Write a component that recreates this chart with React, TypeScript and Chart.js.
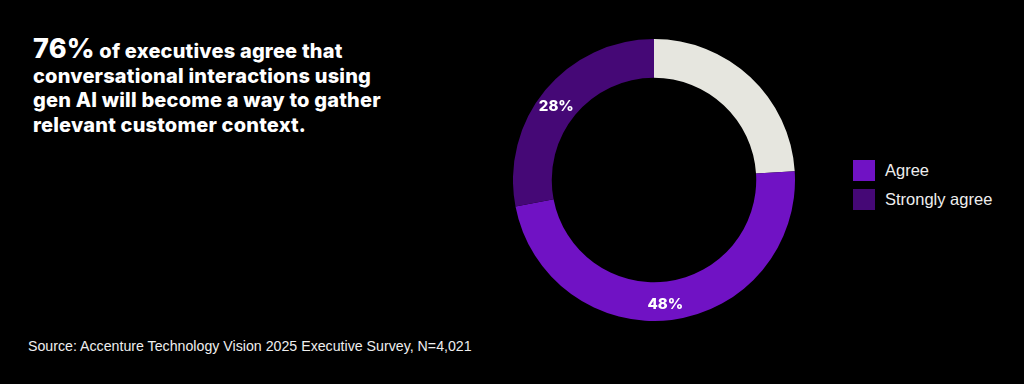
import React, { useEffect, useRef } from "react";
import { Chart, registerables } from "chart.js";

Chart.register(...registerables);

const categories = ["Other", "Agree", "Strongly agree"];
const values = [24, 48, 28];
const colors = ["#e6e6df", "#7012c4", "#450876"];
const showLabel = [false, true, true];
const legendItems = ["Agree", "Strongly agree"];
const legendColors = ["#7012c4", "#450876"];

const FONT = "'Liberation Sans', Arial, sans-serif";
const TITLE_FONT = "Inter, 'Liberation Sans', sans-serif";

const labelPlugin = {
  id: "sliceLabels",
  afterDatasetsDraw(chart: any) {
    const ctx = chart.ctx;
    const meta = chart.getDatasetMeta(0);
    ctx.save();
    ctx.fillStyle = "#ffffff";
    ctx.font = `800 15px ${TITLE_FONT}`;
    ctx.textAlign = "center";
    ctx.textBaseline = "middle";
    meta.data.forEach((arc: any, i: number) => {
      if (!showLabel[i]) return;
      const p = arc.tooltipPosition();
      ctx.fillText(`${values[i]}%`, p.x - 4, p.y + 4);
    });
    ctx.restore();
  },
};

export default function App() {
  const ref = useRef<HTMLCanvasElement>(null);
  useEffect(() => {
    if (!ref.current) return;
    const chart = new Chart(ref.current, {
      type: "doughnut",
      data: {
        labels: categories,
        datasets: [
          {
            data: values,
            backgroundColor: colors,
            borderWidth: 0,
          },
        ],
      },
      options: {
        animation: false,
        responsive: false,
        maintainAspectRatio: false,
        cutout: "72.5%",
        layout: { padding: 0 },
        plugins: {
          legend: { display: false },
          tooltip: { enabled: false },
        },
      },
      plugins: [labelPlugin],
    });
    return () => chart.destroy();
  }, []);

  return (
    <div
      style={{
        position: "fixed",
        left: 0,
        top: 0,
        width: 1024,
        height: 384,
        background: "#000",
        overflow: "hidden",
        fontFamily: FONT,
        color: "#fff",
      }}
    >
      <div
        style={{
          position: "absolute",
          left: 33,
          top: 37,
          width: 420,
          fontFamily: TITLE_FONT,
          fontWeight: 800,
          fontSize: 20,
          letterSpacing: 0.2,
          lineHeight: "24.5px",
        }}
      >
        <span style={{ fontSize: 27 }}>76%</span> of executives agree that
        <br />
        conversational interactions using
        <br />
        gen AI will become a way to gather
        <br />
        relevant customer context.
      </div>
      <canvas
        ref={ref}
        width={282}
        height={282}
        style={{ position: "absolute", left: 513, top: 39, width: 282, height: 282 }}
      />
      <div style={{ position: "absolute", left: 853, top: 159 }}>
        {legendItems.map((t, i) => (
          <div
            key={t}
            style={{ display: "flex", alignItems: "center", height: 22, marginBottom: 7 }}
          >
            <div style={{ width: 22, height: 21, background: legendColors[i] }} />
            <span style={{ marginLeft: 10, fontSize: 16.5, color: "#eeeeee" }}>{t}</span>
          </div>
        ))}
      </div>
      <div
        style={{
          position: "absolute",
          left: 28,
          top: 338,
          fontSize: 14.2,
          color: "#eeeeee",
          whiteSpace: "nowrap",
        }}
      >
        Source: Accenture Technology Vision 2025 Executive Survey, N=4,021
      </div>
    </div>
  );
}
